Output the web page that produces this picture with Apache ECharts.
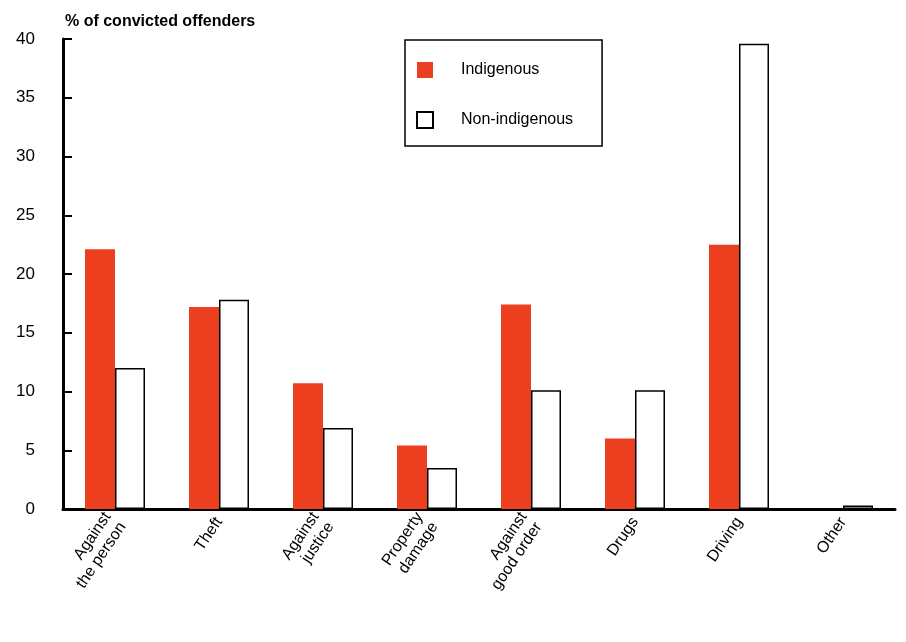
<!DOCTYPE html>
<html><head><meta charset="utf-8">
<script src="https://cdn.jsdelivr.net/npm/echarts@6/dist/echarts.min.js"></script>
<style>html,body{margin:0;padding:0;background:#fff}#c{width:906px;height:642px}</style>
</head><body><div id="c"></div>
<script>
const categories = ['Against\nthe person', 'Theft', 'Against\njustice', 'Property\ndamage', 'Against\ngood order', 'Drugs', 'Driving', 'Other'];
const indigenous = [22.1, 17.2, 10.7, 5.4, 17.4, 6.0, 22.5, 0];
const nonIndigenous = [12.0, 17.8, 6.9, 3.5, 10.1, 10.1, 39.6, 0.3];
const yTicks = [0, 5, 10, 15, 20, 25, 30, 35, 40];

const font = 'Liberation Sans, Arial, sans-serif';
const chart = echarts.init(document.getElementById('c'));
chart.setOption({
  animation: false,
  backgroundColor: '#fff',
  title: {
    text: '% of convicted offenders', left: 60, top: 9,
    textStyle: { fontFamily: font, fontSize: 16, fontWeight: 'bold', color: '#000' }
  },
  legend: {
    orient: 'vertical', left: 405, top: 40,
    padding: [22, 29, 17, 11], itemGap: 33, itemWidth: 16, itemHeight: 16,
    borderColor: '#000', borderWidth: 1.5,
    textStyle: { fontFamily: font, fontSize: 16, color: '#000', padding: [0, 0, 0, 23] },
    data: [
      { name: 'Indigenous', icon: 'rect' },
      { name: 'Non-indigenous', icon: 'rect' }
    ]
  },
  grid: { left: 63, right: 11, top: 39, bottom: 133, containLabel: false },
  xAxis: {
    type: 'category', data: categories,
    axisLine: { lineStyle: { color: '#000', width: 3 } },
    axisTick: { show: false },
    axisLabel: { rotate: 56, interval: 0, fontFamily: font, fontSize: 16, color: '#000', margin: 10, lineHeight: 18 }
  },
  yAxis: {
    type: 'value', min: 0, max: 40, interval: 5,
    splitLine: { show: false },
    axisLine: { show: true, lineStyle: { color: '#000', width: 3 } },
    axisTick: { show: true, inside: true, length: 9, lineStyle: { color: '#000', width: 2 } },
    axisLabel: {
      fontFamily: font, fontSize: 17, color: '#000', margin: 28,
      formatter: v => yTicks.includes(v) ? String(v) : ''
    }
  },
  series: [
    { name: 'Indigenous', type: 'bar', data: indigenous, barWidth: 30, barGap: '0%',
      itemStyle: { color: '#EC3F1F' } },
    { name: 'Non-indigenous', type: 'bar', data: nonIndigenous, barWidth: 30, barGap: '0%',
      itemStyle: { color: '#fff', borderColor: '#000', borderWidth: 1.5 } }
  ]
});
</script></body></html>
